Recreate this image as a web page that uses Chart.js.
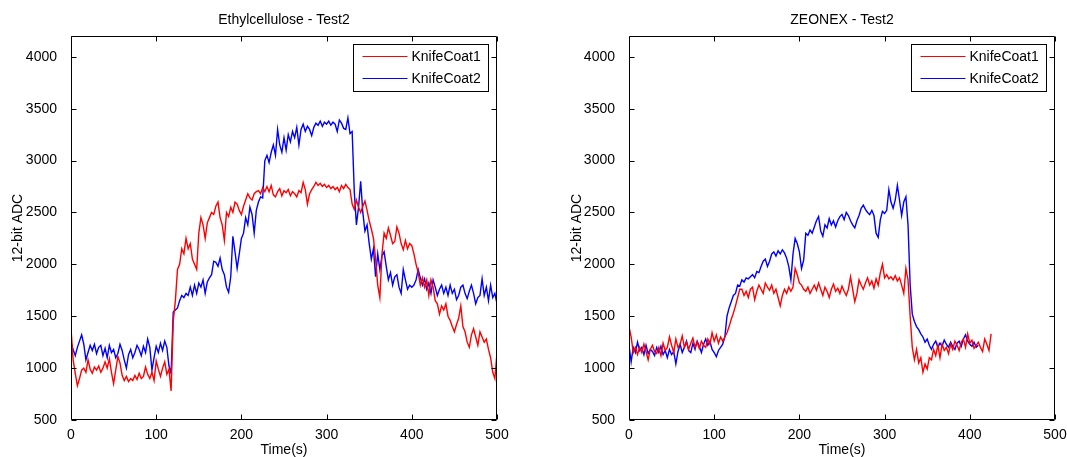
<!DOCTYPE html>
<html>
<head>
<meta charset="utf-8">
<script src="https://cdn.jsdelivr.net/npm/chart.js@4.4.1/dist/chart.umd.min.js"></script>
<style>
    html, body { margin: 0; padding: 0; background: #fff; }
    #wrap { position: relative; width: 1067px; height: 457px; overflow: hidden; }
    canvas { position: absolute; top: 0; }
    #ethylChart { left: 0; }
    #zeonexChart { left: 533px; }
</style>
</head>
<body>
<div id="wrap">
    <canvas id="ethylChart" width="533" height="457"></canvas>
    <canvas id="zeonexChart" width="534" height="457"></canvas>
</div>
<script>
// sample interval of the logged ADC readings (seconds)
const SAMPLE_DT = 2.5;

const seriesNames = ['KnifeCoat1', 'KnifeCoat2'];
const timeTicks = [0, 100, 200, 300, 400, 500];
const adcTicks = [500, 1000, 1500, 2000, 2500, 3000, 3500, 4000];

// Ethylcellulose - Test2, one row = 20 s
const ethylCoat1 = [
    1380, 1080, 950, 830, 900, 980, 1000, 960,
    1080, 990, 950, 1010, 980, 1020, 960, 1000,
    1060, 1000, 1090, 960, 850, 980, 1110, 1050,
    930, 880, 920, 870, 900, 880, 930, 890,
    950, 900, 920, 1010, 940, 900, 960, 880,
    1070, 990, 920, 1000, 1060, 940, 990, 780,
    1450, 1650, 1950, 2000, 2150, 2100, 2250, 2150,
    2200, 2050, 2000, 1950, 2300, 2450, 2380, 2250,
    2400, 2450, 2500, 2480, 2560, 2600, 2450, 2380,
    2230, 2500, 2460, 2550, 2500, 2600, 2580, 2520,
    2480, 2560, 2620, 2680, 2640, 2620, 2680, 2700,
    2710, 2680, 2740, 2700, 2750, 2700, 2760, 2670,
    2650, 2700, 2730, 2660, 2710, 2690, 2720, 2660,
    2700, 2680, 2650, 2710, 2690, 2790, 2720, 2580,
    2680, 2720, 2750, 2790, 2760, 2780, 2750, 2770,
    2740, 2760, 2730, 2750, 2720, 2740, 2700, 2760,
    2730, 2770, 2740, 2720, 2580, 2530, 2620, 2550,
    2500, 2560, 2610, 2520, 2420, 2340, 2250, 2050,
    1800, 1680, 2100, 2300, 2250, 2350, 2280, 2200,
    2220, 2360, 2300, 2200, 2140, 2230, 2150, 2200,
    2180, 2100, 2000, 1920, 1800, 1870, 1780, 1850,
    1700, 1850, 1780, 1650, 1620, 1520, 1600, 1560,
    1620, 1500, 1460, 1400, 1350, 1420, 1480, 1600,
    1400, 1350, 1250, 1200, 1320, 1380, 1300, 1220,
    1350, 1300, 1250, 1280, 1180, 1100, 960, 900,
    1150
];
const ethylCoat2 = [
    1250, 1180, 1120, 1200, 1260, 1320, 1230, 1080,
    1150, 1220, 1170, 1230, 1140, 1200, 1220, 1120,
    1190, 1100, 1220, 1150, 1180, 1100, 1140, 1230,
    1170, 1080, 1000, 1130, 1180, 1100, 1150, 1220,
    1180, 1120, 1210, 1150, 1280, 1200, 980, 1100,
    1210, 1150, 1240, 1170, 1260, 1200, 1020, 950,
    1540, 1560, 1580, 1650, 1700, 1680, 1720, 1700,
    1780, 1700, 1800, 1720, 1820, 1780, 1850, 1720,
    1830, 1870, 1900, 2030, 2020, 1980, 2060, 1950,
    1900, 1780, 1730, 1880, 2270, 2120, 1960, 2100,
    2250, 2300, 2450, 2380, 2550, 2480, 2300, 2520,
    2600, 2650, 2640, 3000, 3050, 2980, 3080, 3150,
    3050, 3300, 3150, 3080, 3220, 3100, 3250, 3180,
    3280, 3220, 3320, 3150, 3300, 3350, 3280, 3330,
    3300, 3240, 3320, 3360, 3340, 3380, 3330, 3370,
    3350, 3380, 3340, 3370, 3350, 3280, 3390, 3360,
    3310, 3300, 3410, 3260, 3280, 2700, 2380, 2550,
    2800, 2500, 2320, 2380, 2200, 2050, 2150, 1880,
    2100, 1950, 2080, 2120, 1980, 1850, 1920, 1800,
    1880, 1900, 1780, 1720, 1950, 1850, 1760, 1800,
    1780, 1800, 1850, 1950, 1870, 1800, 1860, 1760,
    1820, 1720, 1850, 1780, 1700, 1760, 1800, 1720,
    1780, 1700, 1800, 1720, 1760, 1660, 1700, 1780,
    1800, 1720, 1670, 1740, 1800, 1720, 1620, 1680,
    1700, 1860, 1700, 1780, 1650, 1800, 1680, 1720,
    1620
];

// ZEONEX - Test2
const zeonexCoat1 = [
    1400, 1300, 1150, 1200, 1130, 1200, 1150, 1230,
    1160, 1080, 1180, 1220, 1160, 1140, 1200, 1120,
    1240, 1170, 1200, 1300, 1220, 1150, 1280, 1200,
    1230, 1310, 1200, 1250, 1180, 1240, 1290, 1200,
    1250, 1190, 1260, 1220, 1200, 1280, 1230, 1340,
    1260, 1320, 1240, 1300, 1260, 1300, 1340, 1400,
    1470, 1530, 1600, 1680, 1760, 1760, 1700, 1740,
    1680, 1760, 1780, 1660, 1740, 1800, 1760, 1720,
    1820, 1780, 1750, 1800, 1720, 1760, 1680, 1600,
    1700, 1760, 1720, 1780, 1740, 1780, 1960, 1900,
    1820, 1800, 1760, 1740, 1780, 1720, 1760, 1800,
    1750, 1820, 1760, 1700, 1780, 1740, 1680, 1760,
    1810, 1740, 1770, 1720, 1790, 1740, 1700, 1760,
    1880, 1760, 1640, 1720, 1850, 1800, 1760, 1820,
    1870, 1800, 1840, 1770, 1860, 1800, 1920, 2000,
    1870, 1900, 1860, 1880, 1850, 1890, 1840, 1870,
    1800, 1720, 1960, 1850, 1500, 1200, 1080, 1180,
    1050, 1100, 960, 1040, 990, 1100, 1080, 1180,
    1120, 1220, 1100, 1230, 1170, 1200, 1140, 1230,
    1180, 1260, 1220, 1170, 1250, 1280, 1200, 1330,
    1240, 1270, 1190, 1220, 1250, 1200, 1160, 1280,
    1230, 1170, 1330
];
const zeonexCoat2 = [
    1220, 1060, 1200, 1150, 1250, 1170, 1200, 1130,
    1220, 1140, 1180, 1160, 1120, 1200, 1150, 1210,
    1130, 1170, 1100, 1180, 1130, 1160, 1040, 1160,
    1230, 1150, 1200, 1260, 1170, 1150, 1240, 1180,
    1260, 1210, 1150, 1230, 1280, 1220, 1260, 1180,
    1150, 1110, 1170, 1200, 1230, 1300, 1500, 1580,
    1640, 1700, 1720, 1800, 1790, 1850, 1830, 1870,
    1860, 1880, 1900, 1870, 1930, 1920, 1980, 2030,
    2050, 1980, 2030, 2100, 2120, 2080, 2130, 2100,
    2140, 2110, 2060, 1980, 1850, 2100, 2250, 2200,
    2120, 1960, 2040, 2300, 2280, 2330, 2300, 2360,
    2420, 2460, 2320, 2270, 2380, 2350, 2440, 2380,
    2420, 2360, 2420, 2460, 2480, 2430, 2500, 2470,
    2420, 2380, 2350, 2420, 2470, 2540, 2570, 2530,
    2500, 2480, 2520, 2470, 2300, 2260, 2430, 2510,
    2490, 2520, 2720, 2600, 2540, 2620, 2760, 2620,
    2470, 2600, 2650, 2380, 1800, 1520, 1450, 1400,
    1370, 1330, 1300, 1250, 1280, 1220, 1180, 1230,
    1260, 1200, 1240, 1210, 1270, 1230, 1200, 1250,
    1210, 1180, 1240, 1260, 1210, 1280, 1320, 1260,
    1230, 1210, 1250, 1200, 1220
];

const FONT = '"Liberation Sans", Arial, sans-serif';
const TICK_LEN = 5;
Chart.defaults.font.family = FONT;
Chart.defaults.color = '#000';

function toPoints(values) {
    return values.map((v, i) => ({ x: i * SAMPLE_DT, y: v }));
}

// box with inward ticks on all four sides + legend in the upper right corner
const matlabAxes = {
    id: 'matlabAxes',
    afterDatasetsDraw(chart) {
        const { ctx, chartArea: a, scales: { x, y } } = chart;
        const L = Math.floor(a.left) + 0.5, R = Math.round(a.right) - 0.5;
        const T = Math.floor(a.top) + 0.5, B = Math.round(a.bottom) - 0.5;
        ctx.save();
        ctx.strokeStyle = '#000';
        ctx.lineWidth = 1;
        ctx.beginPath();
        ctx.rect(L, T, R - L, B - T);
        x.ticks.forEach(t => {
            const px = Math.round(x.getPixelForValue(t.value)) + 0.5;
            ctx.moveTo(px, B); ctx.lineTo(px, B - TICK_LEN);
            ctx.moveTo(px, T); ctx.lineTo(px, T + TICK_LEN);
        });
        y.ticks.forEach(t => {
            const py = Math.round(y.getPixelForValue(t.value)) + 0.5;
            ctx.moveTo(L, py); ctx.lineTo(L + TICK_LEN, py);
            ctx.moveTo(R, py); ctx.lineTo(R - TICK_LEN, py);
        });
        ctx.stroke();

        // legend
        const w = 135, h = 47;
        const bx = Math.round(a.right) - 9 - w + 0.5, by = Math.round(a.top) + 8 + 0.5;
        ctx.fillStyle = '#fff';
        ctx.fillRect(bx, by, w, h);
        ctx.strokeRect(bx, by, w, h);
        ctx.font = '14px ' + FONT;
        ctx.textBaseline = 'middle';
        ctx.textAlign = 'left';
        chart.data.datasets.forEach((ds, i) => {
            const ly = by + 12 + i * 22;
            ctx.strokeStyle = ds.borderColor;
            ctx.beginPath();
            ctx.moveTo(bx + 9, ly);
            ctx.lineTo(bx + 54, ly);
            ctx.stroke();
            ctx.fillStyle = '#000';
            ctx.fillText(ds.label, bx + 58, ly + 1);
        });
        ctx.restore();
    }
};

function buildChart(canvasId, title, coat1, coat2, area) {
    const canvas = document.getElementById(canvasId);
    return new Chart(canvas.getContext('2d'), {
        type: 'line',
        data: {
            datasets: [
                { label: seriesNames[0], data: toPoints(coat1), borderColor: '#ff0000', borderWidth: 1.4, pointRadius: 0, tension: 0 },
                { label: seriesNames[1], data: toPoints(coat2), borderColor: '#0000ff', borderWidth: 1.4, pointRadius: 0, tension: 0 }
            ]
        },
        options: {
            responsive: false,
            animation: false,
            events: [],
            layout: { padding: { left: 0, top: 0, bottom: 0, right: canvas.width - area.right } },
            plugins: {
                legend: { display: false },
                tooltip: { enabled: false },
                title: {
                    display: true,
                    text: title,
                    fullSize: false,
                    color: '#000',
                    font: { size: 14, weight: 'normal', lineHeight: 1.2 },
                    padding: { top: 11.6, bottom: 7.6 }
                }
            },
            scales: {
                x: {
                    type: 'linear',
                    min: 0,
                    max: 500,
                    grid: { display: false },
                    border: { display: false },
                    afterBuildTicks: s => { s.ticks = timeTicks.map(v => ({ value: v })); },
                    afterFit: s => { s.height = 37; },
                    ticks: { padding: -1, font: { size: 14 }, maxRotation: 0, autoSkip: false, callback: v => String(v) },
                    title: { display: true, text: 'Time(s)', font: { size: 14, lineHeight: 1 }, padding: 0 }
                },
                y: {
                    min: 500,
                    max: 4200,
                    grid: { display: false },
                    border: { display: false },
                    afterBuildTicks: s => { s.ticks = adcTicks.map(v => ({ value: v })); },
                    afterFit: s => { s.width = area.left; },
                    ticks: { padding: 6, font: { size: 14 }, autoSkip: false, callback: v => String(v) },
                    title: { display: true, text: '12-bit ADC', font: { size: 14, lineHeight: 1.2 }, padding: { top: area.labelGap, bottom: 0 } }
                }
            }
        },
        plugins: [matlabAxes]
    });
}

document.addEventListener('DOMContentLoaded', () => {
    buildChart('ethylChart', 'Ethylcellulose - Test2', ethylCoat1, ethylCoat2, { left: 71, right: 497, labelGap: 9.6 });
    buildChart('zeonexChart', 'ZEONEX - Test2', zeonexCoat1, zeonexCoat2, { left: 96, right: 522, labelGap: 35.6 });
});
</script>
</body>
</html>
